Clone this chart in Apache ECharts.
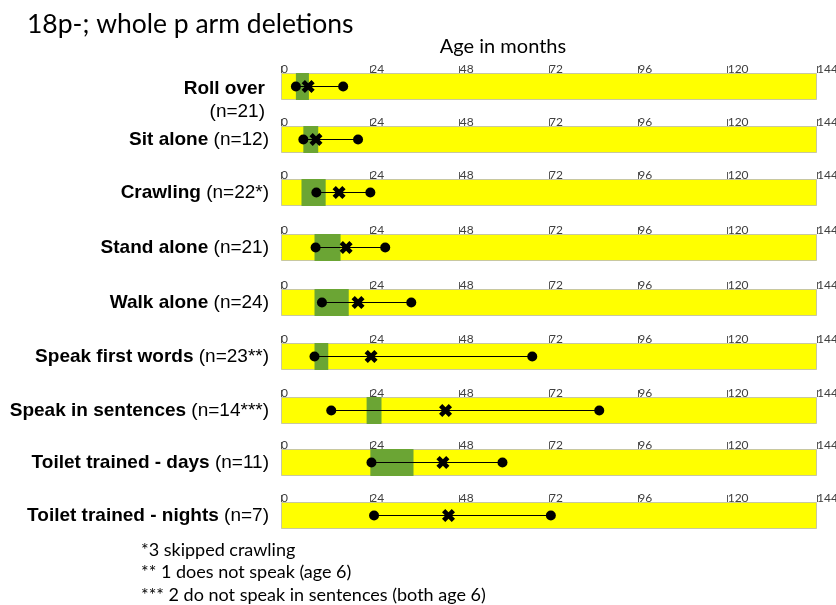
<!DOCTYPE html>
<html><head><meta charset="utf-8">
<script src="https://cdn.jsdelivr.net/npm/echarts@6/dist/echarts.min.js"></script>
<style>html,body{margin:0;padding:0;background:#fff}#c{width:836px;height:605px}</style>
</head><body><div id="c"></div>
<script>
// ---- data ----
const milestones = ['Roll over','Sit alone','Crawling','Stand alone','Walk alone','Speak first words','Speak in sentences','Toilet trained - days','Toilet trained - nights'];
const counts = ['(n=21)','(n=12)','(n=22*)','(n=21)','(n=24)','(n=23**)','(n=14***)','(n=11)','(n=7)'];
const minAge = [4, 6, 9.5, 9.3, 11, 9, 13.5, 24.3, 25];
const maxAge = [16.7, 20.7, 24, 28, 35, 67.5, 85.5, 59.5, 72.5];
const centralAge = [7.3, 9.4, 15.6, 17.5, 20.7, 24.2, 44.2, 43.5, 45];
const rangeLow = [4, 6, 5.5, 9, 9, 9, 23, 24, null];
const rangeHigh = [7.5, 10, 12, 16, 18.2, 12.7, 27, 35.6, null];
const scaleMax = [144];
const ageTicks = [0, 24, 48, 72, 96, 120, 144];
const titleText = '18p-; whole p arm deletions';
const axisTitle = 'Age in months';
const footnotes = ['*3 skipped crawling', '** 1 does not speak (age 6)', '*** 2 do not speak in sentences (both age 6)'];

// ---- layout ----
const rowTops = [73, 126, 179, 234, 289, 343, 397, 449, 502];
const barH = 27;
const xPath = 'path://M0,2.5 L2.5,0 L5,2.5 L7.5,0 L10,2.5 L7.5,5 L10,7.5 L7.5,10 L5,7.5 L2.5,10 L0,7.5 L2.5,5 Z';

const grids = [], xAxes = [], yAxes = [], series = [];
milestones.forEach((m, i) => {
  grids.push({left: 281, right: 19, top: rowTops[i], height: barH, containLabel: false, outerBoundsMode: 'none'});
  xAxes.push({
    gridIndex: i, type: 'value', position: 'top',
    min: ageTicks[0], max: ageTicks[ageTicks.length - 1], interval: ageTicks[1] - ageTicks[0],
    splitLine: {show: false}, axisLine: {show: false},
    axisTick: {show: true, length: 7, lineStyle: {color: '#595959', width: 1}},
    axisLabel: {margin: -2, align: 'left', fontFamily: 'Lato', fontSize: 12, color: '#404040'}
  });
  yAxes.push({
    gridIndex: i, type: 'category', data: [m],
    axisLine: {show: false}, axisTick: {show: false},
    axisLabel: {
      margin: 12,
      formatter: () => i === 0 ? '{b|' + m + '}\n{n|' + counts[i] + '}' : '{b|' + m + '}{n| ' + counts[i] + '}',
      padding: i === 0 ? [28, 4, 0, 0] : 0,
      rich: {
        b: {fontFamily: 'Liberation Sans', fontWeight: 'bold', fontSize: 19, color: '#000', lineHeight: 23},
        n: {fontFamily: 'Liberation Sans', fontWeight: 'normal', fontSize: 19, color: '#000', lineHeight: 23}
      }
    }
  });
  series.push({
    type: 'bar', xAxisIndex: i, yAxisIndex: i, data: [scaleMax[0]], barWidth: barH, barGap: '-100%',
    itemStyle: {color: '#ffff00', borderColor: '#c8c8a0', borderWidth: 1}, silent: true
  });
  if (rangeLow[i] !== null) {
    series.push({
      type: 'bar', xAxisIndex: i, yAxisIndex: i, stack: 'g' + i, data: [rangeLow[i]], barWidth: barH, barGap: '-100%',
      itemStyle: {color: 'rgba(0,0,0,0)'}, silent: true
    });
    series.push({
      type: 'bar', xAxisIndex: i, yAxisIndex: i, stack: 'g' + i, data: [rangeHigh[i] - rangeLow[i]], barWidth: barH, barGap: '-100%',
      itemStyle: {color: '#6ba534'}, silent: true
    });
  }
  series.push({
    type: 'line', xAxisIndex: i, yAxisIndex: i, data: [[minAge[i], m], [maxAge[i], m]],
    symbol: 'circle', symbolSize: 10, itemStyle: {color: '#000', opacity: 1}, lineStyle: {color: '#000', width: 1}, z: 5, silent: true
  });
  series.push({
    type: 'scatter', xAxisIndex: i, yAxisIndex: i, data: [[centralAge[i], m]],
    symbol: xPath, symbolSize: 13, itemStyle: {color: '#000', opacity: 1}, z: 6, silent: true
  });
});

const graphic = [
  {type: 'text', x: 27, y: 24, style: {text: titleText, fontFamily: 'Lato', fontSize: 26.5, fill: '#000', textVerticalAlign: 'middle'}},
  {type: 'text', x: 503, y: 47, style: {text: axisTitle, fontFamily: 'Lato', fontSize: 20, fill: '#000', textAlign: 'center', textVerticalAlign: 'middle'}}
];
footnotes.forEach((t, k) => {
  graphic.push({type: 'text', x: 141, y: 550 + k * 22.5, style: {text: t, fontFamily: 'Lato', fontSize: 18, fill: '#000', textVerticalAlign: 'middle'}});
});

const chart = echarts.init(document.getElementById('c'));
chart.setOption({
  animation: false,
  grid: grids, xAxis: xAxes, yAxis: yAxes, series: series, graphic: graphic
});
</script></body></html>
